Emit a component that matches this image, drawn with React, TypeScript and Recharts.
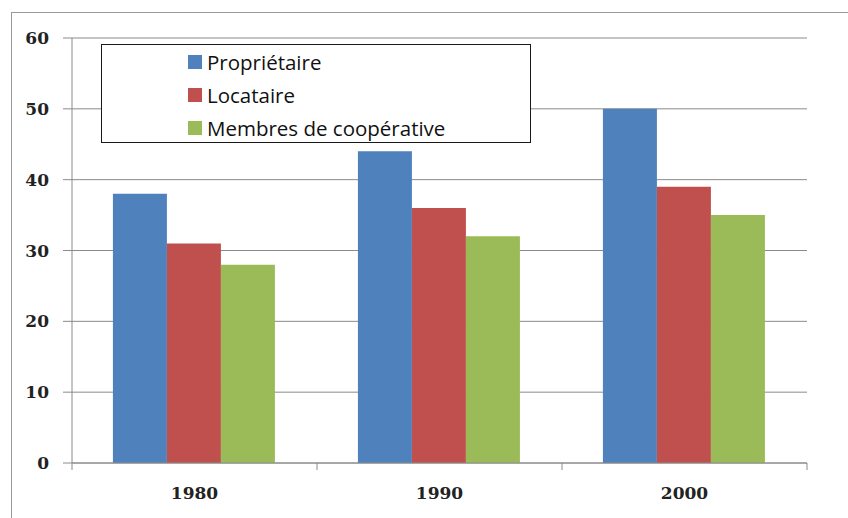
import React from "react";
import { BarChart, Bar, XAxis, YAxis, CartesianGrid, Legend } from "recharts";

const years = ["1980", "1990", "2000"];
const proprietaire = [38, 44, 50];
const locataire = [31, 36, 39];
const cooperative = [28, 32, 35];
const yTicks = [0, 10, 20, 30, 40, 50, 60];

const seriesNames = ["Propriétaire", "Locataire", "Membres de coopérative"];
const colors = ["#4F81BD", "#C0504D", "#9BBB59"];

const CHART_W = 848;
const CHART_H = 518;
const MARGIN = { top: 38, right: 41, bottom: 25, left: 12 };
const Y_AXIS_W = 60;
const PLOT_W = CHART_W - MARGIN.left - MARGIN.right - Y_AXIS_W;
const BAND = PLOT_W / years.length;

const data = years.map((y, i) => ({
  year: y,
  p: proprietaire[i],
  l: locataire[i],
  c: cooperative[i],
}));

const renderLegend = () => {
  return (
    <div
      style={{
        boxSizing: "border-box",
        width: 430,
        height: 99,
        border: "1.5px solid #1a1a1a",
        background: "#fff",
        paddingLeft: 86,
        paddingTop: 0,
        fontFamily: "'Open Sans', sans-serif",
        fontSize: 20.5,
        color: "#111",
      }}
    >
      {seriesNames.map((name, i) => (
        <div key={i} style={{ height: 33, display: "flex", alignItems: "center" }}>
          <span
            style={{
              display: "inline-block",
              width: 14,
              height: 14,
              background: colors[i],
              marginRight: 5,
            }}
          />
          <span>{name}</span>
        </div>
      ))}
    </div>
  );
};

const CategoryTick = (props: any) => {
  const { x, y, payload, index } = props;
  const left = x - BAND / 2;
  const right = x + BAND / 2;
  return (
    <g>
      <line x1={left} x2={left} y1={y} y2={y + 7} stroke="#8a8a8a" />
      {index === years.length - 1 && (
        <line x1={right} x2={right} y1={y} y2={y + 7} stroke="#8a8a8a" />
      )}
      <text
        x={x}
        y={y + 24}
        dy="0.71em"
        textAnchor="middle"
        fontFamily="'DejaVu Serif'"
        fontWeight="bold"
        fontSize={17}
        fill="#222"
      >
        {payload.value}
      </text>
    </g>
  );
};

export default function App() {
  return (
    <div style={{ position: "absolute", left: 0, top: 0, width: CHART_W, height: CHART_H, background: "#fff" }}>
      <div
        style={{
          position: "absolute",
          left: 11,
          top: 12,
          width: 840,
          height: 510,
          borderLeft: "1.5px solid #999",
          borderTop: "1.5px solid #999",
        }}
      />
      <BarChart
        width={CHART_W}
        height={CHART_H}
        data={data}
        margin={MARGIN}
        barCategoryGap="16.7%"
        barGap={0}
      >
        <CartesianGrid vertical={false} stroke="#8a8a8a" strokeWidth={1} />
        <XAxis
          dataKey="year"
          height={30}
          tickLine={false}
          tickSize={0}
          tickMargin={0}
          axisLine={{ stroke: "#8a8a8a" }}
          tick={<CategoryTick />}
          interval={0}
        />
        <YAxis
          width={Y_AXIS_W}
          domain={[0, 60]}
          ticks={yTicks}
          tickSize={9}
          tickMargin={14}
          axisLine={{ stroke: "#8a8a8a" }}
          tickLine={{ stroke: "#8a8a8a" }}
          tick={{ fontFamily: "'DejaVu Serif'", fontWeight: "bold", fontSize: 17, fill: "#222" }}
        />
        <Legend
          layout="vertical"
          verticalAlign="middle"
          align="center"
          content={renderLegend}
          wrapperStyle={{ left: 101, top: 44, width: 430, height: 99 }}
        />
        <Bar dataKey="p" name={seriesNames[0]} fill={colors[0]} isAnimationActive={false} />
        <Bar dataKey="l" name={seriesNames[1]} fill={colors[1]} isAnimationActive={false} />
        <Bar dataKey="c" name={seriesNames[2]} fill={colors[2]} isAnimationActive={false} />
      </BarChart>
    </div>
  );
}
